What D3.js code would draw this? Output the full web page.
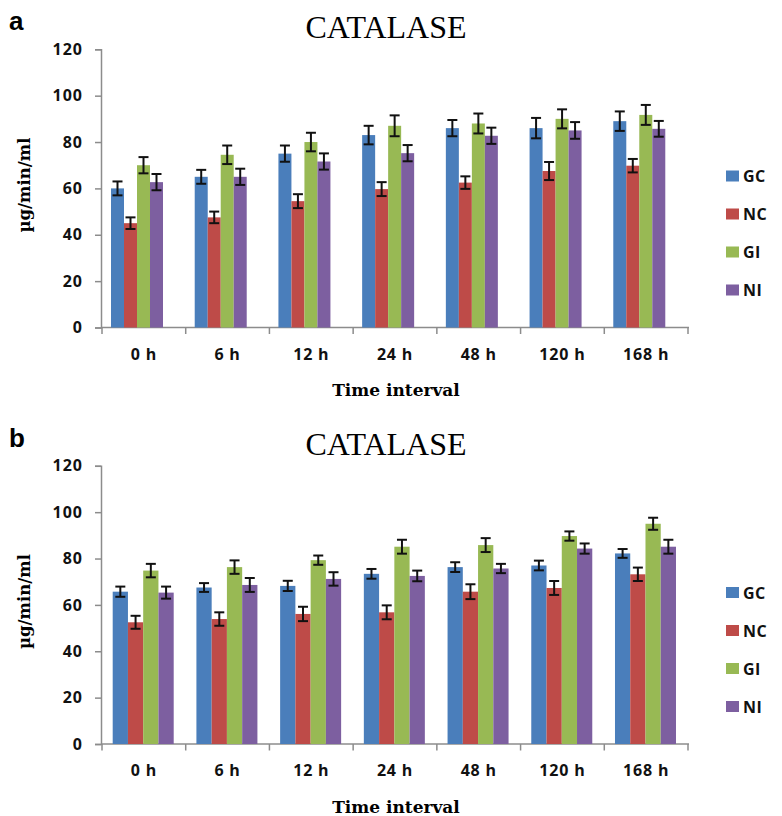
<!DOCTYPE html>
<html>
<head>
<meta charset="utf-8">
<script src="https://cdn.jsdelivr.net/npm/d3@7"></script>
<style>
  body { margin: 0; background: #fff; }
  .tick text { font-family: "Open Sans", sans-serif; font-weight: 700; }
</style>
</head>
<body>
<script>
var w = 782;
var h = 816;

var categories = ["0 h", "6 h", "12 h", "24 h", "48 h", "120 h", "168 h"];
var series = ["GC", "NC", "GI", "NI"];
var colors = ["#4a7ebb", "#be4b48", "#98b954", "#7d5fa0"];
var yTicks = [0, 20, 40, 60, 80, 100, 120];

// panel a
var gcA = [60, 65, 75, 83, 86, 86, 89];
var ncA = [45, 47.5, 54.5, 59.7, 62.5, 67.5, 69.8];
var giA = [70, 74.5, 80, 87, 88, 90, 91.7];
var niA = [62.7, 65, 71.6, 75.2, 82.7, 85, 85.7];
var gcErrA = [3, 3, 3.5, 4, 3.5, 4.4, 4.2];
var ncErrA = [2.5, 2.5, 3, 3, 2.7, 3.9, 2.9];
var giErrA = [3.5, 4, 4, 4.5, 4.3, 4.1, 4.3];
var niErrA = [3.5, 3.5, 3.5, 3.5, 3.5, 3.6, 3.4];

// panel b
var gcB = [65.7, 67.5, 68.2, 73.4, 76.3, 77, 82.2];
var ncB = [52.5, 53.9, 56.1, 56.8, 65.7, 67.3, 73.2];
var giB = [74.8, 76.3, 79.3, 85.1, 85.8, 89.7, 95];
var niB = [65.3, 68.6, 71.2, 72.5, 75.7, 84.3, 85.1];
var gcErrB = [2.2, 1.9, 2.2, 2.1, 2.1, 2.1, 1.9];
var ncErrB = [2.8, 2.9, 3.1, 3, 3.2, 3, 2.9];
var giErrB = [2.9, 2.9, 2, 3, 3, 2, 2.6];
var niErrB = [2.6, 3, 2.9, 2.3, 2, 2.2, 3];

var svg = d3.select("body").append("svg")
    .attr("width", w)
    .attr("height", h);

function rows(vals, errs) {
  return categories.map(function(c, i) {
    return {
      cat: c,
      vals: series.map(function(s, j) { return { s: s, v: vals[j][i], e: errs[j][i] }; })
    };
  });
}

function panel(top, letter, data, groupStart, groupWidth) {
  var g = svg.append("g").attr("transform", "translate(0," + top + ")");

  var x0 = d3.scaleBand().domain(categories).range([102, 688]).paddingInner(0).paddingOuter(0);
  var x1 = d3.scaleBand().domain(series).range([groupStart, groupStart + groupWidth]);
  var y = d3.scaleLinear().domain([0, 120]).range([327.5, 49.3]);

  g.append("text")
    .attr("x", 9).attr("y", 30)
    .style("font-family", "Liberation Sans, Arial, sans-serif")
    .style("font-weight", "bold")
    .style("font-size", "26px")
    .text(letter);

  g.append("text")
    .attr("x", 386).attr("y", 38)
    .attr("text-anchor", "middle")
    .style("font-family", "Liberation Serif, Times New Roman, serif")
    .style("font-size", "32px")
    .text("CATALASE");

  // y axis
  var yAxis = d3.axisLeft(y).tickValues(yTicks).tickSize(6).tickPadding(12);
  var ya = g.append("g").attr("transform", "translate(101,0)").call(yAxis);
  ya.select(".domain").attr("stroke", "#8c8c8c").attr("stroke-width", 1.5);
  ya.selectAll(".tick line").attr("stroke", "#8c8c8c").attr("stroke-width", 1.5);
  ya.selectAll(".tick text").style("font-size", "16px").style("letter-spacing", "1px").attr("fill", "#111");

  // x axis: labels centred, ticks at category boundaries
  var xAxis = d3.axisBottom(x0).tickSize(0).tickPadding(21);
  var xa = g.append("g").attr("transform", "translate(0,327.5)").call(xAxis);
  xa.select(".domain").remove();
  xa.selectAll(".tick text").style("font-size", "16px").style("letter-spacing", "0.8px").attr("fill", "#111");

  g.append("line")
    .attr("x1", 101).attr("x2", 689)
    .attr("y1", 327.5).attr("y2", 327.5)
    .attr("stroke", "#8c8c8c").attr("stroke-width", 1.5);

  var bounds = categories.map(function(c) { return x0(c); }).concat([x0.range()[1]]);
  g.selectAll(".xtick")
    .data(bounds)
    .enter().append("line")
    .attr("class", "xtick")
    .attr("x1", function(d) { return d; }).attr("x2", function(d) { return d; })
    .attr("y1", 327.5).attr("y2", 334)
    .attr("stroke", "#8c8c8c").attr("stroke-width", 1.5);

  var groups = g.selectAll(".grp")
    .data(data)
    .enter().append("g")
    .attr("class", "grp")
    .attr("transform", function(d) { return "translate(" + x0(d.cat) + ",0)"; });

  groups.selectAll("rect")
    .data(function(d) { return d.vals; })
    .enter().append("rect")
    .attr("x", function(d) { return x1(d.s); })
    .attr("width", x1.bandwidth())
    .attr("y", function(d) { return y(d.v); })
    .attr("height", function(d) { return y(0) - y(d.v); })
    .attr("fill", function(d, i) { return colors[i]; });

  var eb = groups.selectAll(".err")
    .data(function(d) { return d.vals; })
    .enter().append("g")
    .attr("class", "err")
    .attr("stroke", "#111")
    .attr("stroke-width", 2);

  eb.append("line")
    .attr("x1", function(d) { return x1(d.s) + x1.bandwidth() / 2; })
    .attr("x2", function(d) { return x1(d.s) + x1.bandwidth() / 2; })
    .attr("y1", function(d) { return y(d.v + d.e); })
    .attr("y2", function(d) { return y(d.v - d.e); });
  eb.append("line")
    .attr("x1", function(d) { return x1(d.s) + x1.bandwidth() / 2 - 5; })
    .attr("x2", function(d) { return x1(d.s) + x1.bandwidth() / 2 + 5; })
    .attr("y1", function(d) { return y(d.v + d.e); })
    .attr("y2", function(d) { return y(d.v + d.e); });
  eb.append("line")
    .attr("x1", function(d) { return x1(d.s) + x1.bandwidth() / 2 - 5; })
    .attr("x2", function(d) { return x1(d.s) + x1.bandwidth() / 2 + 5; })
    .attr("y1", function(d) { return y(d.v - d.e); })
    .attr("y2", function(d) { return y(d.v - d.e); });

  // axis titles
  g.append("text")
    .attr("transform", "translate(30,185) rotate(-90)")
    .attr("text-anchor", "middle")
    .style("font-family", "DejaVu Serif, serif")
    .style("font-weight", "bold")
    .style("font-size", "16.5px")
    .text("\u00b5g/min/ml");

  g.append("text")
    .attr("x", 396).attr("y", 396)
    .attr("text-anchor", "middle")
    .style("font-family", "DejaVu Serif, serif")
    .style("font-weight", "bold")
    .style("font-size", "17px")
    .text("Time interval");

  // legend
  var legY = [176, 214, 252, 290];
  var leg = g.selectAll(".leg")
    .data(series)
    .enter().append("g")
    .attr("class", "leg")
    .attr("transform", function(d, i) { return "translate(726," + legY[i] + ")"; });
  leg.append("rect")
    .attr("x", 0).attr("y", -5.5)
    .attr("width", 13).attr("height", 11)
    .attr("fill", function(d, i) { return colors[i]; });
  leg.append("text")
    .attr("x", 17).attr("y", 6)
    .style("font-family", "Open Sans, sans-serif")
    .style("font-weight", 700)
    .style("font-size", "16px")
    .style("letter-spacing", "0.5px")
    .attr("fill", "#111")
    .text(function(d) { return d; });
}

panel(0, "a", rows([gcA, ncA, giA, niA], [gcErrA, ncErrA, giErrA, niErrA]), 9, 52);
panel(416.5, "b", rows([gcB, ncB, giB, niB], [gcErrB, ncErrB, giErrB, niErrB]), 10.7, 61);
</script>
</body>
</html>
